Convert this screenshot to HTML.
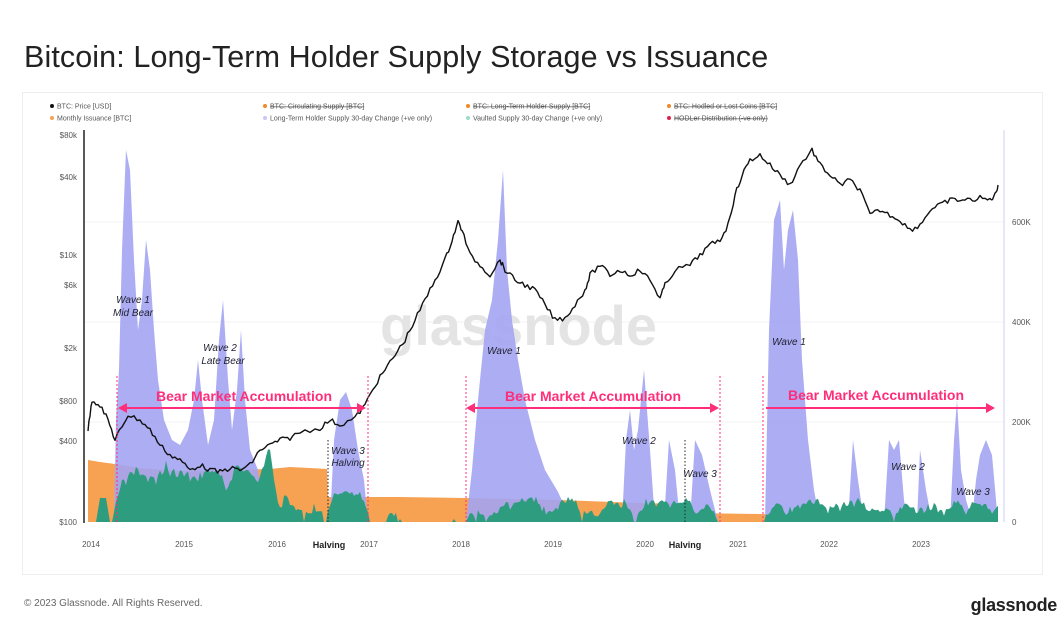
<!DOCTYPE html>
<html><head><meta charset="utf-8"><style>
body{margin:0;background:#fff;font-family:"Liberation Sans",sans-serif;}
#w{position:relative;width:1063px;height:619px;overflow:hidden;background:#fff}
</style></head><body><div id="w">
<svg id="s" width="1063" height="619" xmlns="http://www.w3.org/2000/svg" font-family="Liberation Sans, sans-serif">
<text x="24" y="67" font-size="30.5" fill="#222" letter-spacing="0.1">Bitcoin: Long-Term Holder Supply Storage vs Issuance</text>
<rect x="22.5" y="92.5" width="1020" height="482" fill="#fff" stroke="#eee"/>
<g font-size="7" fill="#555">
<circle cx="52" cy="106" r="2" fill="#111"/><text x="57" y="108.5">BTC: Price [USD]</text>
<circle cx="52" cy="118" r="2" fill="#f7a253"/><text x="57" y="120.5">Monthly Issuance [BTC]</text>
<circle cx="265" cy="106" r="2" fill="#f08a2c"/><text x="270" y="108.5" text-decoration="line-through">BTC: Circulating Supply [BTC]</text>
<circle cx="265" cy="118" r="2" fill="#c9c6f5"/><text x="270" y="120.5">Long-Term Holder Supply 30-day Change (+ve only)</text>
<circle cx="468" cy="106" r="2" fill="#f08a2c"/><text x="473" y="108.5" text-decoration="line-through">BTC: Long-Term Holder Supply [BTC]</text>
<circle cx="468" cy="118" r="2" fill="#9fdcc4"/><text x="473" y="120.5">Vaulted Supply 30-day Change (+ve only)</text>
<circle cx="669" cy="106" r="2" fill="#f08a2c"/><text x="674" y="108.5" text-decoration="line-through">BTC: Hodled or Lost Coins [BTC]</text>
<circle cx="669" cy="118" r="2" fill="#e0204a"/><text x="674" y="120.5" text-decoration="line-through">HODLer Distribution (-ve only)</text>
</g>
<g stroke="#f3f3f3"><line x1="85" x2="1003" y1="422" y2="422"/><line x1="85" x2="1003" y1="322" y2="322"/><line x1="85" x2="1003" y1="222" y2="222"/></g>
<line x1="1004" y1="130" x2="1004" y2="522" stroke="#dde0f8" stroke-width="1.5"/>
<text x="380" y="345" font-size="56" fill="#e4e4e4" font-weight="bold">glassnode</text>
<g id="areas"></g>
<line x1="84" y1="130" x2="84" y2="523" stroke="#222" stroke-width="1.5"/>
<g font-size="8" fill="#555" text-anchor="end">
<text x="77" y="138">$80k</text><text x="77" y="180">$40k</text><text x="77" y="258">$10k</text><text x="77" y="288">$6k</text><text x="77" y="351">$2k</text><text x="77" y="404">$800</text><text x="77" y="444">$400</text><text x="77" y="525">$100</text>
</g>
<g font-size="8" fill="#555"><text x="1012" y="225">600K</text><text x="1012" y="325">400K</text><text x="1012" y="425">200K</text><text x="1012" y="525">0</text></g>
<g font-size="8" fill="#555" text-anchor="middle">
<text x="91" y="547">2014</text><text x="184" y="547">2015</text><text x="277" y="547">2016</text><text x="369" y="547">2017</text><text x="461" y="547">2018</text><text x="553" y="547">2019</text><text x="645" y="547">2020</text><text x="738" y="547">2021</text><text x="829" y="547">2022</text><text x="921" y="547">2023</text>
</g>
<g font-size="9" font-weight="bold" fill="#222" text-anchor="middle"><text x="329" y="548">Halving</text><text x="685" y="548">Halving</text></g>
<path id="price" fill="none" stroke="#111" stroke-width="1.4" stroke-linejoin="round"/>
<g stroke="#ff2e7a" stroke-dasharray="2,2" stroke-width="1"><line x1="117" y1="376" x2="117" y2="522"/><line x1="368" y1="376" x2="368" y2="522"/><line x1="466" y1="376" x2="466" y2="522"/><line x1="720" y1="376" x2="720" y2="522"/><line x1="763" y1="376" x2="763" y2="522"/></g>
<g stroke="#222" stroke-dasharray="1.5,2" stroke-width="1"><line x1="328" y1="440" x2="328" y2="522"/><line x1="685" y1="440" x2="685" y2="522"/></g>
<g stroke="#ff2e7a" stroke-width="2" fill="#ff2e7a">
<line x1="124" y1="408" x2="360" y2="408"/><path d="M118,408 l9,-5 v10z M366,408 l-9,-5 v10z" stroke="none"/>
<line x1="472" y1="408" x2="713" y2="408"/><path d="M466,408 l9,-5 v10z M719,408 l-9,-5 v10z" stroke="none"/>
<line x1="766" y1="408" x2="989" y2="408"/><path d="M995,408 l-9,-5 v10z" stroke="none"/>
</g>
<g font-size="14" font-weight="bold" fill="#ff2e7a" text-anchor="middle"><text x="244" y="401">Bear Market Accumulation</text><text x="593" y="401">Bear Market Accumulation</text><text x="876" y="400">Bear Market Accumulation</text></g>
<g font-size="10" font-style="italic" fill="#223" text-anchor="middle">
<text x="133" y="303">Wave 1</text><text x="133" y="316">Mid Bear</text>
<text x="220" y="351">Wave 2</text><text x="223" y="364">Late Bear</text>
<text x="348" y="454">Wave 3</text><text x="348" y="466">Halving</text>
<text x="504" y="354">Wave 1</text><text x="639" y="444">Wave 2</text><text x="700" y="477">Wave 3</text>
<text x="789" y="345">Wave 1</text><text x="908" y="470">Wave 2</text><text x="973" y="495">Wave 3</text>
</g>
<text x="24" y="606" font-size="10" fill="#666">© 2023 Glassnode. All Rights Reserved.</text>
<text x="1057" y="611" font-size="18" fill="#222" text-anchor="end" font-weight="bold" letter-spacing="-0.3">glassnode</text>
</svg>
<script>
var B=522;
function poly(pts,fill,op){var d="M"+pts[0][0]+","+B;pts.forEach(function(p){d+=" L"+p[0]+","+p[1]});d+=" L"+pts[pts.length-1][0]+","+B+"Z";var e=document.createElementNS("http://www.w3.org/2000/svg","path");e.setAttribute("d",d);e.setAttribute("fill",fill);if(op)e.setAttribute("fill-opacity",op);document.getElementById("areas").appendChild(e);}
var o=[[88,460],[100,462],[115,464],[140,468],[180,471],[230,470],[270,469],[290,467],[310,468],[327,469],[328,497],[400,497],[466,498],[560,500],[640,503],[684,504],[685,513],[760,514],[850,516],[998,517]];
poly(o,"#f7a253");
var p=[[88,522],[114,522],[116,420],[119,370],[122,250],[126,150],[130,170],[134,260],[138,330],[142,300],[146,240],[150,270],[154,330],[158,380],[164,420],[172,440],[180,445],[188,430],[194,400],[198,360],[202,400],[208,445],[214,420],[219,340],[223,300],[228,380],[232,430],[237,390],[241,330],[245,400],[250,450],[258,470],[266,522],[330,522],[334,440],[340,400],[346,392],[352,410],[358,450],[364,480],[368,522],[466,522],[472,470],[478,400],[485,330],[492,300],[498,240],[503,170],[507,270],[512,320],[518,360],[525,400],[535,440],[545,470],[558,492],[572,522],[622,522],[626,440],[630,410],[634,450],[638,430],[644,370],[650,450],[655,522],[664,522],[669,440],[675,470],[680,522],[690,522],[695,440],[702,455],[710,490],[718,522],[765,522],[769,330],[774,220],[780,200],[784,270],[788,230],[793,210],[798,260],[802,360],[808,440],[814,490],[820,522],[848,522],[853,440],[858,480],[864,522],[884,522],[889,440],[894,450],[899,440],[904,500],[908,522],[917,522],[920,450],[926,490],[932,522],[950,522],[954,440],[957,400],[961,470],[966,500],[972,520],[976,480],[980,455],[986,440],[992,455],[998,522]];
poly(p,"#a3a4f2","0.9");
var seed=7;function r(){seed=(seed*9301+49297)%233280;return seed/233280;}
// green: smoothed blobs
var raw=[],xs=[];for(var x=88;x<=998;x+=2){var h;
if(x<117)h=(x>100&&x<106)?60:0;else if(x<275)h=20+r()*60;else if(x<330)h=(r()<0.5)?r()*60:0;else if(x<366)h=20+r()*30;else if(x<466)h=(r()<0.12)?15:0;else if(x<720)h=(r()<0.75)?r()*45:0;else if(x<766)h=(r()<0.06)?20:0;else h=(r()<0.8)?r()*40:0;
raw.push(h);xs.push(x);}
var g=[];for(var i=0;i<raw.length;i++){var s=0,n=0;for(var k=-2;k<=2;k++){if(raw[i+k]!==undefined){s+=raw[i+k];n++;}}var v=s/n;if(raw[i]==0&&v<8)v=0;g.push([xs[i],(B-v).toFixed(1)]);}
poly(g,"#2e9c7f");
var pr=[[88,430],[92,400],[100,405],[108,420],[115,440],[120,430],[128,415],[140,420],[150,430],[160,445],[170,455],[180,460],[190,470],[200,465],[210,470],[220,472],[230,468],[240,470],[250,465],[260,450],[270,445],[280,440],[290,438],[300,432],[320,428],[330,420],[340,425],[355,418],[365,405],[375,385],[385,370],[395,355],[405,340],[415,320],[425,300],[435,280],[445,260],[452,240],[458,222],[462,230],[470,255],[480,265],[490,275],[500,260],[505,270],[515,280],[525,285],[535,290],[545,305],[555,320],[565,318],[575,305],[585,290],[590,275],[600,265],[610,275],[620,270],[630,275],[640,270],[650,280],[660,298],[665,285],[675,270],[690,265],[700,255],[710,245],[720,240],[728,225],[735,195],[742,175],[750,160],[760,155],[770,165],[780,175],[790,185],[800,165],[812,150],[820,165],[830,175],[840,185],[850,180],[860,190],[870,215],[880,210],[890,215],[900,220],[910,230],[920,225],[930,210],[940,205],[950,200],[960,200],[970,200],[980,198],[990,200],[995,195],[998,185]];
var d="";for(var i=0;i<pr.length-1;i++){var a=pr[i],b=pr[i+1];for(var t=0;t<4;t++){var x=a[0]+(b[0]-a[0])*t/4,y=a[1]+(b[1]-a[1])*t/4+(r()-0.5)*5;d+=(d?" L":"M")+x.toFixed(1)+","+y.toFixed(1);}}
d+=" L998,185";document.getElementById("price").setAttribute("d",d);
</script>
</div></body></html>
